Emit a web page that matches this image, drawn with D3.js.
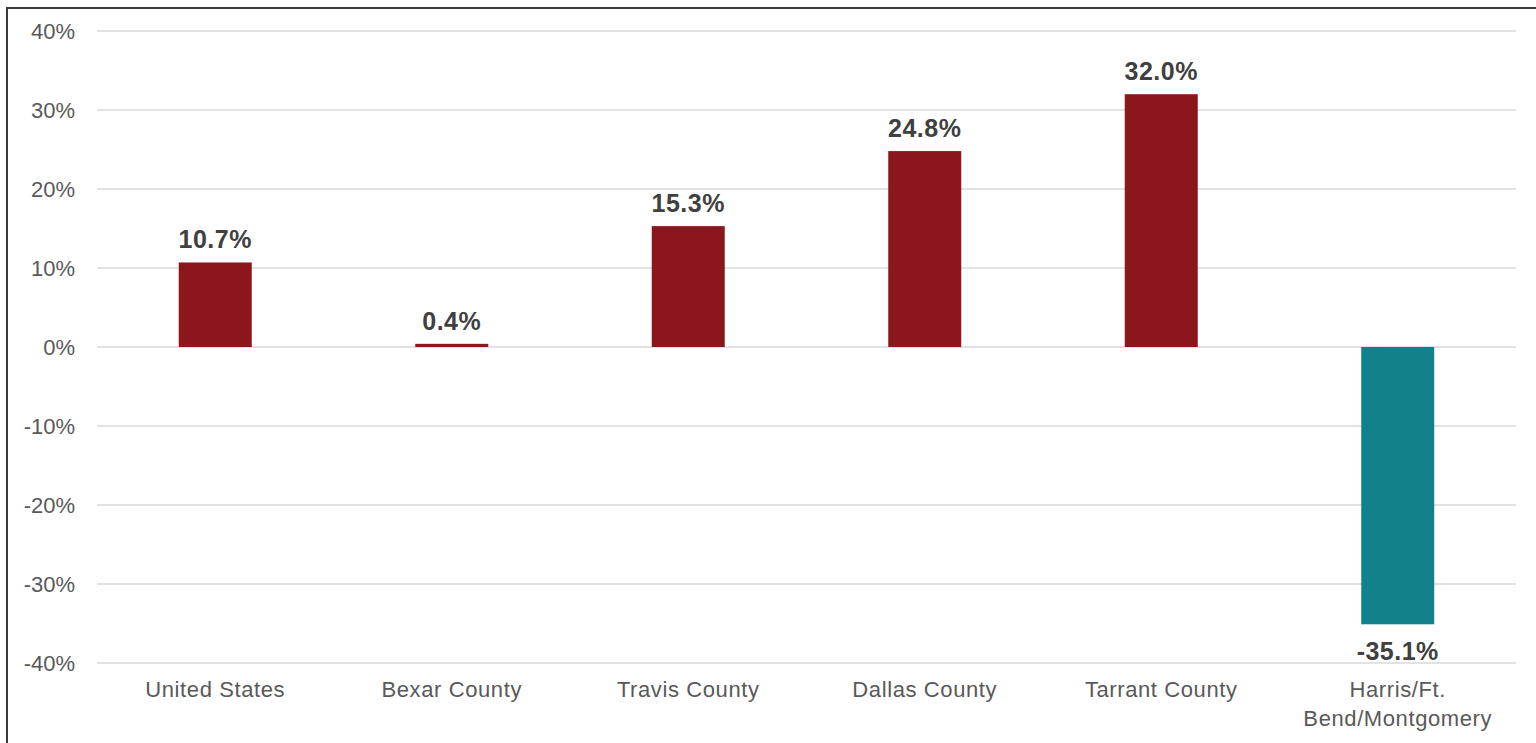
<!DOCTYPE html>
<html>
<head>
<meta charset="utf-8">
<script src="https://cdn.jsdelivr.net/npm/d3@7"></script>
<style>
  body { margin: 0; background: #fff; }
  svg { display: block; font-family: "Liberation Sans", Arial, sans-serif; }
</style>
</head>
<body>
<svg id="chart"></svg>
<script>
var categories = ["United States", "Bexar County", "Travis County", "Dallas County", "Tarrant County", "Harris/Ft. Bend/Montgomery"];
var values = [10.7, 0.4, 15.3, 24.8, 32.0, -35.1];
var yTicks = [-40, -30, -20, -10, 0, 10, 20, 30, 40];

var width = 1536, height = 743;

var svg = d3.select("#chart")
  .attr("width", width)
  .attr("height", height);

// outer frame
svg.append("rect")
  .attr("x", 7).attr("y", 8)
  .attr("width", width + 10).attr("height", height + 10)
  .attr("fill", "none")
  .attr("stroke", "#3a3a3a")
  .attr("stroke-width", 2);

var xScale = d3.scaleBand().domain(categories).range([97, 1516]);
var yScale = d3.scaleLinear().domain([-40, 40]).range([663, 31]);

// gridlines
svg.append("g")
  .selectAll("line")
  .data(yTicks)
  .join("line")
  .attr("x1", 97).attr("x2", 1516)
  .attr("y1", function(d) { return yScale(d); })
  .attr("y2", function(d) { return yScale(d); })
  .attr("stroke", "#d9d9d9")
  .attr("stroke-width", 1.5);

// y axis labels
var yAxis = svg.append("g")
  .attr("transform", "translate(75, 0)")
  .call(d3.axisLeft(yScale).tickValues(yTicks).tickSize(0).tickPadding(0).tickFormat(function(d) { return d + "%"; }));
yAxis.select(".domain").remove();
yAxis.selectAll("text")
  .attr("fill", "#595959")
  .style("font-size", "22px")
  .style("font-family", "'Liberation Sans', Arial, sans-serif");

var barW = 73;

svg.append("g")
  .selectAll("rect")
  .data(values)
  .join("rect")
  .attr("x", function(d, i) { return xScale(categories[i]) + xScale.bandwidth() / 2 - barW / 2; })
  .attr("width", barW)
  .attr("y", function(d) { return yScale(Math.max(0, d)); })
  .attr("height", function(d) { return Math.abs(yScale(d) - yScale(0)); })
  .attr("fill", function(d) { return d < 0 ? "#11828c" : "#8b161b"; });

// data labels
svg.append("g")
  .selectAll("text")
  .data(values)
  .join("text")
  .attr("x", function(d, i) { return xScale(categories[i]) + xScale.bandwidth() / 2; })
  .attr("y", function(d) { return d < 0 ? yScale(d) + 36 : yScale(d) - 14; })
  .attr("text-anchor", "middle")
  .attr("fill", "#404040")
  .style("font-size", "25px")
  .style("font-weight", "bold")
  .style("letter-spacing", "0.5px")
  .text(function(d) { return d.toFixed(1) + "%"; });

// category labels
var catG = svg.append("g");
categories.forEach(function(c, i) {
  var cx = xScale(c) + xScale.bandwidth() / 2;
  var lines = c === "Harris/Ft. Bend/Montgomery" ? ["Harris/Ft.", "Bend/Montgomery"] : [c];
  var t = catG.append("text")
    .attr("x", cx)
    .attr("y", 697)
    .attr("text-anchor", "middle")
    .attr("fill", "#595959")
    .style("font-size", "22px")
    .style("letter-spacing", "0.6px");
  lines.forEach(function(l, j) {
    t.append("tspan").attr("x", cx).attr("dy", j === 0 ? 0 : 29).text(l);
  });
});
</script>
</body>
</html>
